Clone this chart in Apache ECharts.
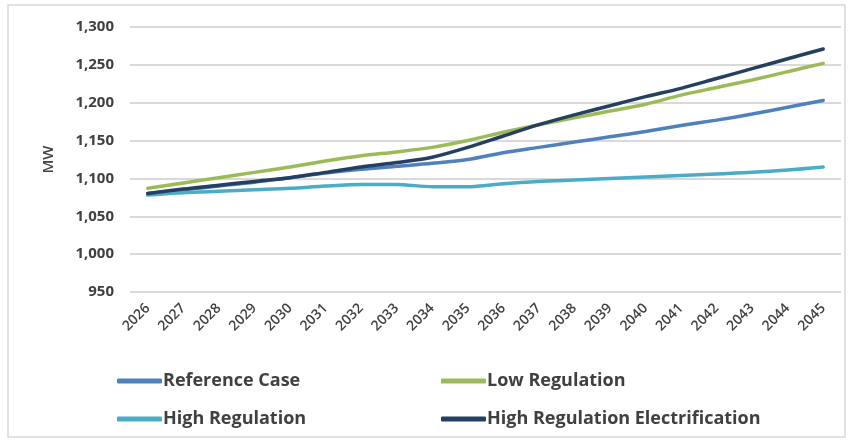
<!DOCTYPE html>
<html>
<head>
<meta charset="utf-8">
<script src="https://cdn.jsdelivr.net/npm/echarts@6/dist/echarts.min.js"></script>
<style>html,body{margin:0;padding:0;background:#fff}#c{width:851px;height:441px}</style>
</head>
<body>
<div id="c"></div>
<script>
const years = ['2026','2027','2028','2029','2030','2031','2032','2033','2034','2035','2036','2037','2038','2039','2040','2041','2042','2043','2044','2045'];
const referenceCase = [1080,1085,1090,1095,1101,1107,1112,1116,1120,1125,1134,1141,1148,1155,1162,1170,1177,1185,1194,1203];
const lowRegulation = [1087,1094,1101,1108,1115,1123,1130,1135,1141,1150,1161,1171,1180,1189,1198,1210,1220,1230,1241,1252];
const highRegulation = [1078,1081,1083,1085,1087,1090,1092,1092,1089,1089,1093,1096,1098,1100,1102,1104,1106,1108,1111,1115];
const highRegElectrification = [1080,1086,1091,1096,1101,1108,1115,1121,1128,1141,1156,1171,1184,1196,1208,1219,1232,1245,1258,1271];
const yTicks = [950,1000,1050,1100,1150,1200,1250,1300];

const chart = echarts.init(document.getElementById('c'), null, {renderer:'canvas'});
const fontFam = '"Open Sans",Arial,sans-serif';
function mk(name, data, color){
  return {name, type:'line', data, smooth:0.3, showSymbol:false, symbol:'none',
    lineStyle:{color, width:3.5, cap:'round'}, itemStyle:{color}};
}
function lg(name, left, top){
  return {data:[name], left, top, itemWidth:45, itemHeight:5, icon:'roundRect',
    textStyle:{fontFamily:fontFam, fontSize:18, color:'#404040', fontWeight:'bold', padding:[0,0,0,-4]}};
}
chart.setOption({
  animation:false,
  backgroundColor:'#fff',
  graphic:[{type:'rect', shape:{x:8,y:5,width:837,height:432}, style:{fill:'none', stroke:'#d9d9d9', lineWidth:1.5}, silent:true, z:-1}],
  grid:{left:130, right:10, top:27, bottom:149, containLabel:false},
  legend:[
    lg('Reference Case', 112, 367),
    lg('Low Regulation', 436, 367),
    lg('High Regulation', 112, 405),
    lg('High Regulation Electrification', 436, 405)
  ],
  xAxis:{type:'category', data:years, boundaryGap:true,
    axisLine:{show:false}, axisTick:{show:false},
    axisLabel:{rotate:45, fontFamily:fontFam, fontSize:14, color:'#404040', fontWeight:600, margin:14, interval:0}},
  yAxis:{type:'value', min:950, max:1300, interval:50,
    name:'MW', nameLocation:'middle', nameGap:74, nameRotate:90,
    nameTextStyle:{fontFamily:fontFam, fontSize:15, color:'#404040', fontWeight:600},
    axisLine:{show:false}, axisTick:{show:false},
    splitLine:{lineStyle:{color:'#d9d9d9', width:2}},
    axisLabel:{fontFamily:fontFam, fontSize:15, color:'#404040', fontWeight:'bold', margin:16,
      formatter:v=>yTicks.includes(v)?v.toLocaleString('en-US'):''}},
  series:[
    mk('Reference Case', referenceCase, '#4f81bd'),
    mk('Low Regulation', lowRegulation, '#9bbb59'),
    mk('High Regulation', highRegulation, '#4bacc6'),
    mk('High Regulation Electrification', highRegElectrification, '#243f60')
  ]
});
</script>
</body>
</html>
